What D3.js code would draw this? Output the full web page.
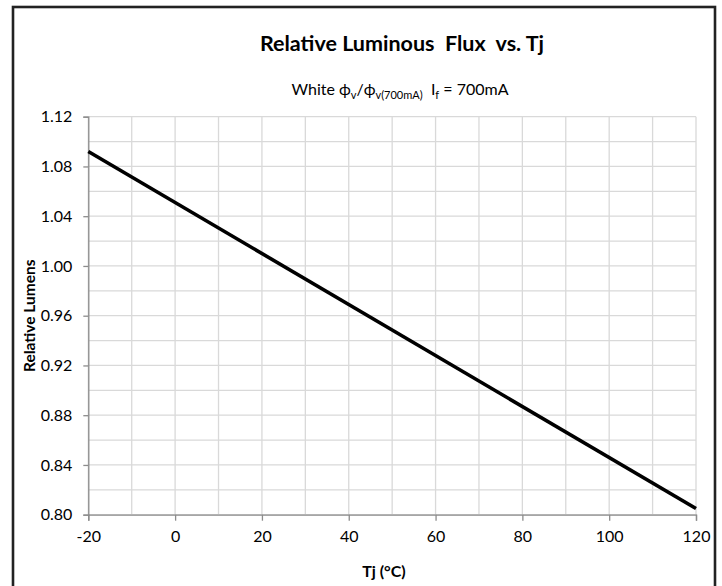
<!DOCTYPE html>
<html>
<head>
<meta charset="utf-8">
<script src="https://cdn.jsdelivr.net/npm/d3@7"></script>
<style>
html,body{margin:0;padding:0;background:#fff;}
svg{display:block;}
text{font-family:Lato,"Open Sans",sans-serif;fill:#000;}
</style>
</head>
<body>
<svg id="chart" width="722" height="586"></svg>
<script>
// Data
const tjValues = [-20, 120];
const relLumens = [1.092, 0.805];
const xTicks = [-20, 0, 20, 40, 60, 80, 100, 120];
const yTicks = [0.80, 0.84, 0.88, 0.92, 0.96, 1.00, 1.04, 1.08, 1.12];
const xGrid = d3.range(-20, 121, 10);
const yGrid = d3.range(0.80, 1.1201, 0.02);
const titleText = "Relative Luminous  Flux  vs. Tj";
const xTitle = "Tj (°C)";
const yTitle = "Relative Lumens";

const svg = d3.select("#chart");
const plot = {left: 88.3, top: 116.7, right: 696, bottom: 514.7};

// Outer frame
svg.append("rect")
  .attr("x", 13).attr("y", 7)
  .attr("width", 702).attr("height", 600)
  .attr("fill", "none").attr("stroke", "#222").attr("stroke-width", 2.6);

const x = d3.scaleLinear().domain([-20, 120]).range([plot.left, plot.right]);
const y = d3.scaleLinear().domain([0.80, 1.12]).range([plot.bottom, plot.top]);

// Grid
const g = svg.append("g");
g.selectAll("line.vg").data(xGrid).enter().append("line")
  .attr("x1", d => x(d)).attr("x2", d => x(d))
  .attr("y1", plot.top).attr("y2", plot.bottom)
  .attr("stroke", "#d9d9d9").attr("stroke-width", 1.3);
g.selectAll("line.hg").data(yGrid).enter().append("line")
  .attr("y1", d => y(d)).attr("y2", d => y(d))
  .attr("x1", plot.left).attr("x2", plot.right)
  .attr("stroke", "#d9d9d9").attr("stroke-width", 1.3);

// Axes
const xAxis = d3.axisBottom(x).tickValues(xTicks).tickSize(6).tickPadding(10)
  .tickFormat(d => String(d));
const yAxis = d3.axisLeft(y).tickValues(yTicks).tickSize(5).tickPadding(11)
  .tickFormat(d3.format(".2f"));

const gx = svg.append("g").attr("transform", `translate(0,${plot.bottom})`).call(xAxis);
const gy = svg.append("g").attr("transform", `translate(${plot.left},0)`).call(yAxis);
[gx, gy].forEach(a => {
  a.select(".domain").attr("stroke", "#8c8c8c").attr("stroke-width", 1.3);
  a.selectAll(".tick line").attr("stroke", "#8c8c8c").attr("stroke-width", 1.3);
  a.selectAll(".tick text").attr("font-family", "Lato, sans-serif").attr("font-size", 16).attr("fill", "#000");
});

// Line
const line = d3.line().x((d, i) => x(tjValues[i])).y(d => y(d));
svg.append("path").datum(relLumens)
  .attr("d", line)
  .attr("fill", "none").attr("stroke", "#000").attr("stroke-width", 3.6);

// Title
svg.append("text").attr("x", 402).attr("y", 51)
  .attr("text-anchor", "middle").attr("font-size", 21.5).attr("font-weight", "bold")
  .attr("xml:space", "preserve")
  .text(titleText);

// Subtitle with subscripts
const sub = svg.append("text").attr("x", 400).attr("y", 95)
  .attr("text-anchor", "middle").attr("font-size", 16).attr("xml:space", "preserve");
sub.append("tspan").text("White ϕ");
sub.append("tspan").attr("font-size", 11).attr("dy", 4).text("v");
sub.append("tspan").attr("dy", -4).text("/ϕ");
sub.append("tspan").attr("font-size", 11).attr("dy", 4).text("v(700mA)");
sub.append("tspan").attr("dy", -4).text("  I");
sub.append("tspan").attr("font-size", 11).attr("dy", 4).text("f");
sub.append("tspan").attr("dy", -4).text(" = 700mA");

// Axis titles
svg.append("text").attr("x", 384).attr("y", 577)
  .attr("text-anchor", "middle").attr("font-size", 16).attr("font-weight", "bold")
  .text(xTitle);
svg.append("text")
  .attr("transform", `translate(35,${(plot.top + plot.bottom) / 2}) rotate(-90)`)
  .attr("text-anchor", "middle").attr("font-size", 15.5).attr("font-weight", "bold")
  .text(yTitle);
</script>
</body>
</html>
